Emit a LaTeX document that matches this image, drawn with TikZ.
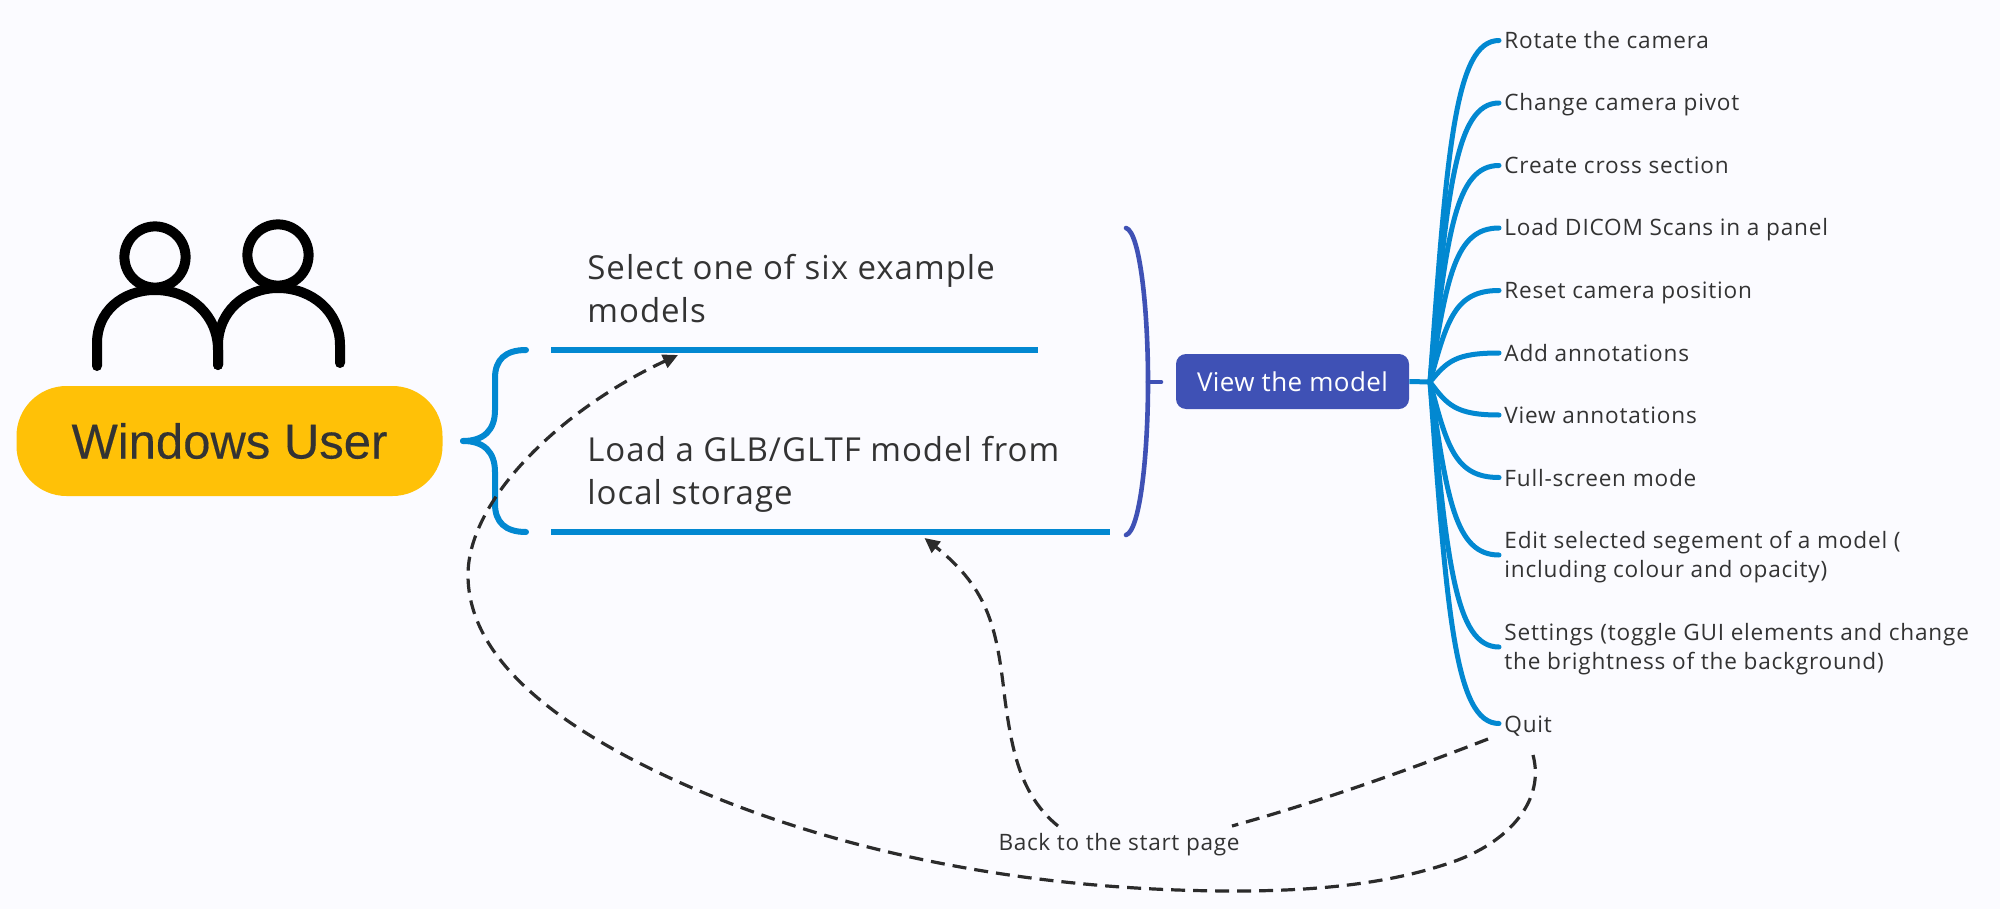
\documentclass[tikz,border=0pt]{standalone}
\usepackage{fontspec}
\setmainfont{Open Sans}
\newfontfamily\heavyfont[FakeBold=0.25]{Liberation Sans}
\usetikzlibrary{arrows.meta,calc}
\definecolor{bgc}{HTML}{FBFBFF}
\definecolor{branch}{HTML}{0288D1}
\definecolor{indigo}{HTML}{3F51B5}
\definecolor{amber}{HTML}{FFC107}
\definecolor{ink}{HTML}{333333}
\definecolor{dashc}{HTML}{2B2B2B}
\newcommand{\lstrut}{\rule[-2pt]{0pt}{12.5pt}}
\tikzset{
  x=0.5pt,y=-0.5pt,
  leaf/.style={anchor=west,align=left,inner xsep=2.5pt,inner ysep=0pt,text=ink,font=\fontsize{11.3pt}{14.7pt}\selectfont\addfontfeatures{LetterSpace=3.5}},
  main/.style={anchor=west,align=left,inner sep=0pt,text=ink,font=\fontsize{16.5pt}{21.4pt}\selectfont\addfontfeatures{LetterSpace=3}},
  branchline/.style={draw=branch,line width=2.5pt,line cap=round},
  blueline/.style={draw=branch,line width=3pt},
  dashline/.style={draw=dashc,line width=1.6pt,dash pattern=on 7pt off 4pt},
  person/.style={draw=black,line width=5pt,line cap=round},
  tip/.style={-{Triangle[length=7.5pt,width=7pt]}},
}
\begin{document}
\begin{tikzpicture}
\useasboundingbox (0,0) rectangle (2000,909);
\fill[bgc] (0,0) rectangle (2000,909);
% persons
\draw[person] (155,257) circle[radius=15.3pt];
\draw[person] (278,255) circle[radius=15.3pt];
\draw[person] (97,366) -- (97,343) .. controls (97,312) and (122,290) .. (155,290) .. controls (190,290) and (218,315) .. (218,350) -- (218,365);
\draw[person] (218,365) -- (218,345) .. controls (218,312) and (245,288) .. (278,288) .. controls (312,288) and (340,312) .. (340,345) -- (340,363);
% user
\node[fill=amber,rounded corners=25pt,minimum width=213pt,minimum height=55pt,inner sep=0pt,text=ink,font=\heavyfont\fontsize{24.5pt}{27pt}\selectfont] (user) at (229.5,441) {Windows User};
% brace
\coordinate (bt) at (463,441);
\coordinate (b1) at (526,350);
\coordinate (b2) at (526,532);
\draw[branchline,line width=3pt] (bt) .. controls (484,441) and (495,430) .. (495,410) -- (495,378) .. controls (495,360) and (505,350) .. (b1);
\draw[branchline,line width=3pt] (bt) .. controls (484,441) and (495,452) .. (495,472) -- (495,504) .. controls (495,522) and (505,532) .. (b2);
% option lines
\coordinate (l1a) at (551,349.5); \coordinate (l1b) at (1038,349.5);
\coordinate (l2a) at (551,532); \coordinate (l2b) at (1110,532);
\draw[blueline] (l1a) -- (l1b);
\draw[blueline] (l2a) -- (l2b);
\node[main] (opt1) at (587,288.5) {Select one of six example\\models};
\node[main] (opt2) at (587,474) {Load a GLB/GLTF model from\\local storage};
% paren
\coordinate (p1) at (1126,228);
\coordinate (p2) at (1126,535);
\coordinate (pm) at (1148,382);
\draw[draw=indigo,line width=2.3pt,line cap=round] (p1) .. controls (1140,232) and (1148,310) .. (pm) .. controls (1148,454) and (1140,531) .. (p2);
\node[fill=indigo,rounded corners=5pt,minimum width=116.5pt,minimum height=27.5pt,inner sep=0pt,text=white,font=\fontsize{13pt}{15pt}\selectfont\addfontfeatures{LetterSpace=1.5}] (view) at (1292.5,381.5) {View the model};
\draw[draw=indigo,line width=2.3pt,line cap=round] (pm) -- (1161,382);
\coordinate (root) at (1430,382);
\draw[draw=branch,line width=2.5pt] (view.east) -- (root);
% leaves
\foreach \n/\yy/\t in {a/40.5/{Rotate the camera},b/103/{Change camera pivot},c/165.5/{Create cross section},d/228/{Load DICOM Scans in a panel},e/290.5/{Reset camera position},f/353/{Add annotations},g/415/{View annotations},h/477.5/{Full-screen mode},i/555/{Edit selected segement of a model (\\\lstrut including colour and opacity)},j/647/{Settings (toggle GUI elements and change\\\lstrut the brightness of the background)},k/723.5/{Quit}}{
  \node[leaf] (\n) at (1499,\yy) {\lstrut\t};
}
\foreach \n/\dy in {a/-342,b/-279,c/-217,d/-155,e/-92,f/-30,g/33,h/95,i/172,j/264,k/341}{
  \draw[branchline] (root) .. controls +(17,{0.68*\dy}) and ($(\n.west)+(-44,0)$) .. (\n.west);
}
% back node + dashed
\node[inner xsep=0pt,inner ysep=0pt,text=ink,font=\fontsize{11.3pt}{12pt}\selectfont\addfontfeatures{LetterSpace=3}] (back) at (1119,845) {Back to the start page};
\coordinate (q1) at (1488,739);
\coordinate (q2) at (1533,755);
\coordinate (bl) at (1058,826);
\coordinate (br) at (1232,826);
\coordinate (a1) at (924.5,538);
\coordinate (a2) at (678,355);
\draw[dashline] (q1) .. controls (1403,772) and (1318,802) .. (br);
\draw[dashline,tip] (bl) .. controls (1020,795) and (1012,750) .. (1005,700) .. controls (997,630) and (990,590) .. (a1);
\draw[dashline,tip] (q2) .. controls (1545,800) and (1510,840) .. (1458,860) .. controls (1390,885) and (1310,891) .. (1235,891) .. controls (1050,891) and (860,860) .. (690,787) .. controls (560,730) and (468,660) .. (468,575) .. controls (468,500) and (560,410) .. (a2);
\end{tikzpicture}
\end{document}
